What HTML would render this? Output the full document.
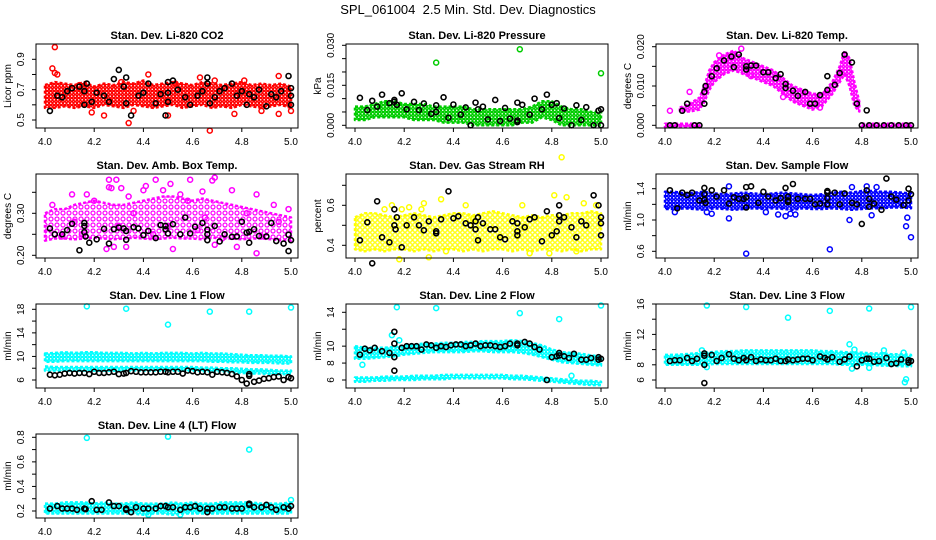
<!DOCTYPE html>
<html><head><meta charset="utf-8"><style>
html,body{margin:0;padding:0;background:#fff;}
svg{display:block;font-family:"Liberation Sans",sans-serif;}
</style></head><body>
<svg id="chart" width="936" height="540" viewBox="0 0 936 540" xmlns="http://www.w3.org/2000/svg">
<defs>
<pattern id="pd-red" width="3.5" height="3.5" patternUnits="userSpaceOnUse"><rect width="3.5" height="3.5" fill="#fff"/><circle cx="1.75" cy="1.75" r="1.4" fill="none" stroke="#ff0000" stroke-width="1.3"/></pattern>
<pattern id="pd-green" width="3.5" height="3.5" patternUnits="userSpaceOnUse"><rect width="3.5" height="3.5" fill="#fff"/><circle cx="1.75" cy="1.75" r="1.4" fill="none" stroke="#00cc00" stroke-width="1.3"/></pattern>
<pattern id="pd-magenta" width="3.5" height="3.5" patternUnits="userSpaceOnUse"><rect width="3.5" height="3.5" fill="#fff"/><circle cx="1.75" cy="1.75" r="1.4" fill="none" stroke="#ff00ff" stroke-width="1.3"/></pattern>
<pattern id="ps-magenta" width="6" height="6" patternUnits="userSpaceOnUse"><rect width="6" height="6" fill="#fff"/><circle cx="3" cy="3" r="2" fill="none" stroke="#ff00ff" stroke-width="1.2"/></pattern>
<pattern id="ps-yellow" width="5" height="5" patternUnits="userSpaceOnUse"><rect width="5" height="5" fill="#fff"/><circle cx="2.5" cy="2.5" r="1.8" fill="none" stroke="#ffff00" stroke-width="1.3"/></pattern>
<pattern id="pd-blue" width="3.5" height="3.5" patternUnits="userSpaceOnUse"><rect width="3.5" height="3.5" fill="#fff"/><circle cx="1.75" cy="1.75" r="1.4" fill="none" stroke="#0000ff" stroke-width="1.3"/></pattern>
<pattern id="pd-cyan" width="3.5" height="3.5" patternUnits="userSpaceOnUse"><rect width="3.5" height="3.5" fill="#fff"/><circle cx="1.75" cy="1.75" r="1.4" fill="none" stroke="#00ffff" stroke-width="1.3"/></pattern>
</defs>
<text x="468" y="14" text-anchor="middle" font-size="13">SPL_061004&#160; 2.5 Min. Std. Dev. Diagnostics</text>
</svg>
<script>
const xGrid=[4.00,4.04,4.08,4.12,4.16,4.20,4.24,4.28,4.32,4.36,4.40,4.44,4.48,4.52,4.56,4.60,4.64,4.68,4.72,4.76,4.80,4.84,4.88,4.92,4.96,5.00];
const xTicks=[4.0,4.2,4.4,4.6,4.8,5.0];
const xTickLabels=["4.0","4.2","4.4","4.6","4.8","5.0"];

// CO2
const co2Lo=[0.58,0.58,0.59,0.58,0.59,0.58,0.6,0.59,0.58,0.6,0.59,0.58,0.59,0.6,0.58,0.59,0.6,0.58,0.59,0.58,0.6,0.59,0.58,0.59,0.6,0.58];
const co2Hi=[0.73,0.75,0.74,0.73,0.75,0.72,0.74,0.73,0.75,0.74,0.76,0.73,0.74,0.75,0.74,0.73,0.75,0.74,0.73,0.74,0.75,0.73,0.74,0.73,0.74,0.72];
const co2OutX=[4.04,4.03,4.04,4.05,4.19,4.24,4.31,4.34,4.36,4.42,4.50,4.53,4.67,4.69,4.77,4.81,4.88,4.95,4.95,5.0,4.14,4.63];
const co2OutY=[0.98,0.84,0.81,0.80,0.55,0.53,0.75,0.48,0.56,0.80,0.53,0.74,0.43,0.76,0.54,0.76,0.56,0.79,0.54,0.56,0.73,0.78];
const co2BlkX=[4.02,4.05,4.07,4.09,4.11,4.14,4.16,4.17,4.16,4.19,4.21,4.24,4.26,4.28,4.30,4.32,4.33,4.33,4.35,4.38,4.40,4.42,4.45,4.47,4.49,4.50,4.50,4.50,4.52,4.54,4.57,4.59,4.62,4.64,4.66,4.66,4.67,4.69,4.71,4.73,4.76,4.78,4.80,4.82,4.83,4.85,4.87,4.90,4.92,4.94,4.96,4.99,5.0,5.0,5.0];
const co2BlkY=[0.56,0.66,0.65,0.69,0.71,0.72,0.69,0.74,0.6,0.62,0.68,0.66,0.62,0.77,0.83,0.72,0.78,0.61,0.53,0.66,0.68,0.74,0.61,0.67,0.53,0.62,0.68,0.75,0.76,0.70,0.65,0.6,0.66,0.69,0.78,0.74,0.61,0.65,0.69,0.71,0.74,0.66,0.69,0.6,0.67,0.65,0.7,0.59,0.67,0.65,0.69,0.79,0.71,0.66,0.6];

// Pressure
const prLo=[0.002,0.002,0.003,0.003,0.003,0.003,0.002,0.002,0.002,0.001,0.001,0.001,0.0,0.0,0.0,0.0,0.0,0.001,0.001,0.003,0.002,0.0,0.0,0.0,0.0,0.0];
const prHi=[0.007,0.007,0.008,0.009,0.009,0.008,0.008,0.008,0.007,0.007,0.007,0.007,0.006,0.006,0.006,0.006,0.006,0.006,0.007,0.009,0.009,0.007,0.006,0.006,0.005,0.005];
const prOutX=[4.33,4.67,5.0];
const prOutY=[0.0235,0.0285,0.0195];
const prBlkX=[4.02,4.05,4.07,4.09,4.11,4.14,4.16,4.16,4.17,4.19,4.21,4.24,4.26,4.28,4.31,4.33,4.33,4.36,4.38,4.40,4.43,4.45,4.47,4.49,4.50,4.52,4.54,4.57,4.59,4.61,4.63,4.66,4.66,4.66,4.68,4.71,4.73,4.76,4.78,4.80,4.82,4.83,4.85,4.88,4.90,4.92,4.94,4.97,4.99,5.0,5.0];
const prBlkY=[0.0103,0.0057,0.0092,0.007,0.0115,0.0083,0.0095,0.0088,0.0077,0.012,0.006,0.0088,0.0057,0.0082,0.0043,0.0075,0.005,0.0105,0.0028,0.0078,0.004,0.0067,0.0,0.0085,0.006,0.007,0.0022,0.0095,0.0016,0.0065,0.0025,0.0085,0.0018,0.0012,0.0077,0.004,0.010,0.006,0.0115,0.0077,0.0083,0.0027,0.0063,0.0,0.0075,0.002,0.0068,0.0,0.0055,0.006,0.0];

// Li-820 Temp
const tpHumpX=[4.06,4.10,4.14,4.16,4.18,4.20,4.24,4.28,4.32,4.36,4.40,4.44,4.48,4.52,4.56,4.60,4.64,4.68,4.71,4.73,4.75,4.77,4.79];
const tpHumpLo=[0.0035,0.0035,0.004,0.006,0.009,0.011,0.013,0.014,0.013,0.012,0.011,0.010,0.008,0.006,0.005,0.004,0.005,0.008,0.011,0.013,0.010,0.005,0.0035];
const tpHumpHi=[0.0045,0.0055,0.007,0.010,0.014,0.016,0.018,0.019,0.017,0.016,0.015,0.014,0.012,0.010,0.009,0.008,0.008,0.011,0.015,0.019,0.017,0.011,0.006];
const tpZeroAX=[4.0,4.14], tpZeroBX=[4.80,5.0];
const tpZeroLo=[-0.0004,-0.0004], tpZeroHi=[0.0004,0.0004];
const tpOutX=[4.02,4.10,4.22,4.31,4.48,4.35,4.63];
const tpOutY=[0.0037,0.0085,0.0178,0.0195,0.0072,0.0125,0.0045];
const tpBlkX=[4.02,4.04,4.07,4.09,4.12,4.14,4.16,4.16,4.165,4.19,4.21,4.24,4.27,4.28,4.30,4.33,4.33,4.35,4.37,4.40,4.42,4.45,4.47,4.49,4.49,4.52,4.54,4.57,4.59,4.61,4.63,4.66,4.66,4.69,4.71,4.73,4.76,4.78,4.82,4.80,4.83,4.86,4.89,4.92,4.95,4.98,5.0];
const tpBlkY=[0,0,0.0037,0.0055,0,0,0.0055,0.0085,0.010,0.0125,0.0145,0.0165,0.0175,0.0148,0.018,0.0142,0.0150,0.0152,0.0152,0.0135,0.0135,0.012,0.013,0.0105,0.0095,0.0088,0.0075,0.0085,0.0055,0.0055,0.0077,0.0090,0.0125,0.0103,0.0133,0.018,0.016,0.0055,0.0038,0,0,0,0,0,0,0,0];

// Amb Box Temp
const abLo=[0.235,0.24,0.24,0.238,0.24,0.242,0.24,0.238,0.24,0.242,0.24,0.238,0.24,0.242,0.24,0.24,0.238,0.242,0.24,0.24,0.238,0.24,0.24,0.238,0.236,0.235];
const abHi=[0.30,0.31,0.31,0.32,0.325,0.33,0.325,0.32,0.32,0.325,0.33,0.335,0.34,0.34,0.335,0.33,0.335,0.33,0.325,0.32,0.315,0.31,0.305,0.30,0.295,0.29];
const abOutX=[4.11,4.17,4.26,4.26,4.27,4.29,4.31,4.34,4.40,4.41,4.45,4.48,4.51,4.55,4.59,4.64,4.68,4.69,4.76,4.86,4.25,4.52,4.86,4.28,4.33,4.69,4.78,4.88,4.99,4.07,4.15,4.50,4.62,4.93,4.44,4.72,4.03,4.20,4.36,4.58,4.82,4.95,4.12,4.30,4.65];
const abOutY=[0.345,0.345,0.38,0.362,0.36,0.38,0.36,0.34,0.355,0.365,0.38,0.355,0.37,0.345,0.38,0.352,0.378,0.385,0.355,0.345,0.215,0.215,0.205,0.22,0.22,0.225,0.22,0.245,0.31,0.245,0.25,0.27,0.26,0.32,0.25,0.24,0.32,0.33,0.30,0.33,0.30,0.28,0.28,0.27,0.29];
const abBlkX=[4.02,4.04,4.07,4.09,4.11,4.14,4.16,4.16,4.16,4.165,4.18,4.21,4.24,4.26,4.28,4.30,4.32,4.33,4.33,4.36,4.38,4.40,4.42,4.45,4.47,4.49,4.49,4.50,4.52,4.55,4.57,4.59,4.61,4.64,4.66,4.66,4.66,4.69,4.71,4.73,4.76,4.78,4.80,4.82,4.83,4.83,4.85,4.87,4.90,4.92,4.94,4.97,4.99,5.0,4.99];
const abBlkY=[0.264,0.25,0.25,0.26,0.275,0.212,0.277,0.27,0.255,0.245,0.23,0.238,0.263,0.228,0.262,0.266,0.264,0.258,0.237,0.267,0.264,0.248,0.258,0.241,0.272,0.262,0.27,0.252,0.274,0.25,0.29,0.252,0.268,0.277,0.261,0.236,0.25,0.27,0.233,0.25,0.244,0.245,0.28,0.254,0.256,0.23,0.262,0.246,0.245,0.277,0.234,0.228,0.249,0.236,0.21];

// Gas Stream RH
const rhLo=[0.38,0.37,0.38,0.37,0.38,0.38,0.37,0.38,0.37,0.38,0.38,0.37,0.38,0.37,0.38,0.38,0.37,0.38,0.37,0.38,0.38,0.37,0.38,0.37,0.38,0.38];
const rhHi=[0.54,0.56,0.56,0.55,0.54,0.55,0.56,0.55,0.54,0.55,0.56,0.56,0.55,0.56,0.57,0.56,0.55,0.54,0.55,0.54,0.55,0.55,0.56,0.56,0.57,0.56];
const rhOutX=[4.12,4.19,4.27,4.28,4.35,4.45,4.68,4.81,4.84,4.86,4.93,4.98,4.18,4.30,4.37,4.71,4.79,4.90,4.15,4.48,4.22];
const rhOutY=[0.58,0.58,0.58,0.61,0.63,0.60,0.60,0.65,0.84,0.64,0.61,0.60,0.33,0.34,0.37,0.36,0.36,0.37,0.60,0.53,0.59];
const rhBlkX=[4.02,4.05,4.07,4.09,4.11,4.14,4.16,4.16,4.165,4.17,4.19,4.21,4.24,4.26,4.28,4.30,4.33,4.33,4.35,4.38,4.40,4.42,4.45,4.47,4.49,4.49,4.50,4.50,4.52,4.55,4.57,4.59,4.61,4.64,4.66,4.66,4.66,4.69,4.71,4.73,4.76,4.78,4.80,4.82,4.83,4.83,4.83,4.85,4.88,4.90,4.92,4.94,4.97,4.99,5.0,5.0,5.0];
const rhBlkY=[0.425,0.515,0.31,0.62,0.44,0.415,0.58,0.50,0.48,0.54,0.39,0.50,0.54,0.50,0.475,0.52,0.46,0.47,0.53,0.67,0.535,0.545,0.51,0.50,0.52,0.48,0.425,0.54,0.51,0.48,0.48,0.44,0.43,0.52,0.51,0.45,0.47,0.49,0.53,0.54,0.42,0.57,0.45,0.47,0.55,0.52,0.60,0.54,0.49,0.44,0.52,0.50,0.65,0.60,0.54,0.51,0.45];

// Sample Flow
const sfLo=[1.14,1.14,1.15,1.14,1.13,1.15,1.14,1.13,1.14,1.15,1.14,1.15,1.14,1.13,1.15,1.14,1.14,1.15,1.14,1.13,1.14,1.15,1.15,1.16,1.16,1.15];
const sfHi=[1.36,1.36,1.34,1.35,1.36,1.34,1.33,1.34,1.35,1.34,1.33,1.34,1.35,1.34,1.33,1.32,1.33,1.35,1.36,1.35,1.37,1.37,1.36,1.36,1.35,1.34];
const sfOutX=[4.26,4.26,4.33,4.46,4.49,4.51,4.53,4.67,4.75,4.76,4.82,4.84,4.86,4.98,4.985,5.0,4.04,4.17,4.19,4.41];
const sfOutY=[1.43,1.02,0.57,1.07,1.05,1.08,1.07,0.625,1.00,1.42,1.43,1.06,1.42,0.92,1.03,0.78,1.1,1.1,1.08,1.1];
const sfBlkX=[4.02,4.05,4.07,4.09,4.11,4.14,4.16,4.16,4.16,4.165,4.19,4.21,4.24,4.26,4.28,4.30,4.32,4.33,4.33,4.33,4.35,4.38,4.40,4.42,4.45,4.47,4.49,4.50,4.50,4.50,4.52,4.54,4.57,4.59,4.61,4.63,4.66,4.66,4.66,4.66,4.69,4.71,4.73,4.76,4.78,4.80,4.82,4.83,4.83,4.85,4.88,4.90,4.92,4.94,4.97,4.99,5.0,4.99];
const sfBlkY=[1.38,1.15,1.35,1.32,1.35,1.25,1.26,1.33,1.41,1.22,1.38,1.30,1.38,1.21,1.29,1.27,1.27,1.29,1.42,1.16,1.43,1.22,1.36,1.30,1.25,1.28,1.41,1.25,1.23,1.30,1.46,1.27,1.27,1.27,1.20,1.21,1.20,1.35,1.37,1.28,1.35,1.2,1.34,1.22,1.2,0.95,1.38,1.17,1.27,1.21,1.13,1.53,1.30,1.26,1.19,1.40,1.33,1.25];

// Line 1 Flow
const l1UpLo=[9.1,9.1,9.2,9.2,9.2,9.2,9.2,9.2,9.2,9.2,9.2,9.2,9.2,9.2,9.2,9.2,9.2,9.1,9.1,9.0,9.0,8.9,8.9,8.9,8.8,8.8];
const l1UpHi=[10.5,10.6,10.7,10.6,10.7,10.7,10.6,10.6,10.6,10.5,10.6,10.5,10.6,10.6,10.6,10.5,10.6,10.5,10.5,10.4,10.3,10.2,10.2,10.1,10.1,10.0];
const l1LwLo=[7.6,7.6,7.6,7.6,7.6,7.6,7.6,7.6,7.6,7.6,7.6,7.6,7.6,7.6,7.6,7.6,7.5,7.5,7.5,7.3,7.2,7.1,7.1,7.0,7.0,7.0];
const l1LwHi=[8.3,8.2,8.2,8.2,8.2,8.2,8.2,8.2,8.2,8.2,8.2,8.2,8.2,8.2,8.2,8.2,8.1,8.1,8.0,8.0,7.9,7.8,7.8,7.7,7.6,7.6];
const l1OutX=[4.17,4.33,4.50,4.67,4.83,5.0];
const l1OutY=[18.5,18.1,15.4,17.6,17.6,18.3];
const l1BlkX=[4.02,4.04,4.06,4.08,4.10,4.12,4.14,4.16,4.18,4.20,4.22,4.24,4.26,4.28,4.30,4.32,4.33,4.35,4.37,4.39,4.41,4.43,4.45,4.47,4.49,4.50,4.52,4.54,4.56,4.58,4.60,4.62,4.64,4.66,4.68,4.70,4.72,4.74,4.76,4.78,4.80,4.82,4.83,4.83,4.85,4.87,4.89,4.91,4.93,4.95,4.97,4.99,5.0];
const l1BlkY=[6.9,6.8,6.9,7.1,7.2,7.1,7.2,7.2,7.0,7.4,7.2,7.2,7.3,7.4,7.0,7.1,7.2,7.5,7.4,7.3,7.3,7.3,7.3,7.4,7.4,7.3,7.4,7.4,7.1,7.6,7.5,7.3,7.4,7.3,6.9,7.4,7.3,7.2,7.0,6.6,6.0,5.4,7.0,6.7,5.7,5.9,6.2,6.3,6.5,6.6,6.0,6.5,6.3];

// Line 2 Flow
const l2UpLo=[8.5,8.5,8.6,8.7,8.8,9.0,9.1,9.2,9.3,9.3,9.3,9.3,9.4,9.4,9.3,9.3,9.3,9.2,9.0,8.7,8.4,8.1,8.0,7.9,7.8,7.7];
const l2UpHi=[10.0,9.8,9.8,9.8,9.9,10.1,10.2,10.3,10.3,10.4,10.4,10.5,10.5,10.6,10.6,10.6,10.7,10.6,10.4,10.1,9.6,9.3,9.2,9.1,8.9,8.8];
const l2LwLo=[5.8,5.8,5.9,5.9,6.0,6.0,6.0,6.1,6.1,6.1,6.2,6.2,6.2,6.2,6.2,6.2,6.1,6.1,6.0,5.9,5.8,5.7,5.6,5.5,5.4,5.4];
const l2LwHi=[6.3,6.3,6.3,6.4,6.4,6.4,6.5,6.5,6.5,6.6,6.6,6.6,6.6,6.6,6.6,6.6,6.5,6.5,6.4,6.3,6.2,6.1,6.0,5.9,5.9,5.8];
const l2OutX=[4.17,4.33,4.67,4.83,5.0,4.15,4.03,4.88,4.18];
const l2OutY=[14.6,14.5,13.9,13.2,14.8,11.3,7.8,6.5,10.7];
const l2BlkX=[4.02,4.04,4.06,4.08,4.11,4.14,4.16,4.16,4.16,4.16,4.19,4.21,4.23,4.25,4.27,4.29,4.31,4.33,4.35,4.37,4.39,4.41,4.43,4.45,4.47,4.49,4.51,4.53,4.55,4.57,4.59,4.61,4.63,4.66,4.66,4.69,4.71,4.73,4.75,4.78,4.80,4.82,4.83,4.83,4.85,4.87,4.89,4.92,4.94,4.96,4.99,5.0,4.99];
const l2BlkY=[9.0,9.7,9.5,9.8,9.4,9.2,11.7,10.3,8.7,7.1,9.8,10.0,10.0,10.0,9.6,10.2,10.1,9.8,10.0,9.9,10.1,10.2,10.2,10.0,10.1,10.3,10.0,10.1,10.1,10.0,9.9,10.0,10.3,10.3,10.1,10.5,10.3,9.9,9.6,6.0,8.7,8.8,9.2,8.9,8.8,8.6,9.1,8.4,8.4,8.6,8.7,8.5,8.4];

// Line 3 Flow
const l3Lo=[8.0,8.0,8.0,8.0,8.0,8.1,8.1,8.1,8.1,8.1,8.1,8.1,8.1,8.1,8.1,8.1,8.1,8.1,8.0,8.0,8.0,8.0,7.9,7.9,7.8,7.8];
const l3Hi=[9.3,9.3,9.4,9.5,9.6,9.7,9.8,9.8,9.9,9.9,9.9,9.9,9.9,9.9,9.9,9.9,9.8,9.8,9.7,9.6,9.6,9.5,9.5,9.4,9.4,9.3];
const l3OutX=[4.17,4.33,4.50,4.67,4.83,5.0,4.15,4.75,4.77,4.89,4.98,4.975,4.76,4.83,4.97,4.17];
const l3OutY=[15.8,15.6,14.2,15.1,15.4,15.6,9.9,10.7,10.0,9.9,6.1,5.7,7.5,7.6,9.6,7.7];
const l3BlkX=[4.02,4.04,4.06,4.09,4.11,4.13,4.16,4.16,4.16,4.16,4.19,4.21,4.23,4.26,4.28,4.30,4.32,4.33,4.35,4.37,4.39,4.41,4.43,4.45,4.47,4.49,4.50,4.52,4.54,4.56,4.58,4.60,4.63,4.65,4.66,4.68,4.71,4.73,4.75,4.78,4.80,4.82,4.83,4.85,4.87,4.90,4.92,4.94,4.96,4.99,5.0,4.99];
const l3BlkY=[8.5,8.6,8.6,8.9,8.5,8.8,9.5,9.2,8.0,5.6,9.3,8.5,8.9,9.4,8.8,8.6,8.9,8.6,9.0,8.5,8.7,8.6,8.6,8.8,8.5,8.5,8.7,8.6,8.7,8.8,8.8,8.6,9.1,8.9,8.7,9.0,8.4,8.7,9.1,7.8,8.6,8.8,8.8,8.4,8.5,8.9,8.1,8.2,8.7,8.3,8.5,8.6];

// Line 4 Flow
const l4Lo=[0.18,0.18,0.18,0.18,0.18,0.18,0.18,0.18,0.18,0.18,0.17,0.18,0.18,0.17,0.18,0.18,0.18,0.18,0.18,0.18,0.18,0.18,0.18,0.18,0.18,0.18];
const l4Hi=[0.26,0.26,0.27,0.27,0.27,0.26,0.27,0.26,0.26,0.27,0.26,0.26,0.26,0.27,0.26,0.27,0.26,0.26,0.27,0.27,0.27,0.27,0.26,0.26,0.26,0.27];
const l4OutX=[4.17,4.50,4.83,5.0,4.42,4.55];
const l4OutY=[0.795,0.805,0.70,0.29,0.17,0.17];
const l4BlkX=[4.02,4.05,4.07,4.09,4.11,4.13,4.16,4.165,4.19,4.21,4.23,4.26,4.28,4.30,4.33,4.33,4.35,4.37,4.40,4.42,4.45,4.47,4.49,4.50,4.52,4.55,4.57,4.59,4.61,4.63,4.66,4.66,4.68,4.71,4.73,4.76,4.78,4.80,4.83,4.83,4.85,4.88,4.90,4.92,4.94,4.97,4.99,5.0];
const l4BlkY=[0.22,0.24,0.22,0.22,0.22,0.21,0.22,0.215,0.28,0.21,0.21,0.27,0.24,0.24,0.22,0.21,0.19,0.23,0.22,0.22,0.22,0.24,0.24,0.23,0.23,0.21,0.23,0.23,0.24,0.22,0.22,0.19,0.22,0.23,0.23,0.22,0.22,0.22,0.26,0.25,0.23,0.23,0.25,0.23,0.21,0.23,0.22,0.24];

// Axis ticks
const co2Ticks=[0.5,0.6,0.7,0.8,0.9], co2Labels=["0.5","","0.7","","0.9"];
const prTicks=[0,0.005,0.010,0.015,0.020,0.025,0.030], prLabels=["0.000","","","0.015","","","0.030"];
const tpTicks=[0,0.005,0.010,0.015,0.020], tpLabels=["0.000","","0.010","","0.020"];
const abTicks=[0.20,0.25,0.30,0.35], abLabels=["0.20","","0.30",""];
const rhTicks=[0.4,0.5,0.6,0.7], rhLabels=["0.4","","0.6",""];
const sfTicks=[0.6,0.8,1.0,1.2,1.4], sfLabels=["0.6","","1.0","","1.4"];
const l1Ticks=[6,8,10,12,14,16,18], l1Labels=["6","","10","","14","","18"];
const l2Ticks=[6,8,10,12,14], l2Labels=["6","8","10","","14"];
const l3Ticks=[6,8,10,12,14,16], l3Labels=["6","8","","12","","16"];
const l4Ticks=[0.2,0.3,0.4,0.5,0.6,0.7,0.8], l4Labels=["0.2","","0.4","","0.6","","0.8"];

const svg=document.getElementById('chart');
const NS='http://www.w3.org/2000/svg';
function mk(tag,attrs,parent){const e=document.createElementNS(NS,tag);for(const k in attrs)e.setAttribute(k,attrs[k]);parent.appendChild(e);return e;}

function panel(p){
  const g=mk('g',{},svg);
  
  
  const L=p.left,T=p.top,W=262,H=84,B=T+H;
  const xs=v=>L+9+(v-4)*246;
  const ys=v=>p.p0+(v-p.v0)*(p.p1-p.p0)/(p.v1-p.v0);
  p.bands.forEach(b=>{
    let d='M'+b.x.map((x,i)=>xs(x).toFixed(1)+','+ys(b.hi[i]).toFixed(1)).join(' L');
    for(let i=b.x.length-1;i>=0;i--) d+=' L'+xs(b.x[i]).toFixed(1)+','+ys(b.lo[i]).toFixed(1);
    d+=' Z';
    const e=mk('path',{d:d,fill:'url(#'+b.pat+')',stroke:p.color,'stroke-width':2.5,'stroke-linejoin':'round','stroke-dasharray':'3 2'},g);
    
    
  });
  p.outX.forEach((x,i)=>{
    const c=mk('circle',{cx:xs(x),cy:ys(p.outY[i]),r:2.5,fill:'none',stroke:p.color,'stroke-width':1.5},g);
    
    
  });
  p.blkX.forEach((x,i)=>{
    const c=mk('circle',{cx:xs(x),cy:ys(p.blkY[i]),r:2.5,fill:'none',stroke:'#000','stroke-width':1.6},g);
    
    
  });
  const bx=mk('rect',{x:L,y:T,width:W,height:H,fill:'none',stroke:'#000','stroke-width':1},g);
  
  
  const t=mk('text',{x:L+W/2,y:T-5,'text-anchor':'middle','font-size':11,'font-weight':'bold'},g);
  t.textContent=p.title;
  
  
  xTicks.forEach((v,i)=>{
    mk('line',{x1:xs(v),x2:xs(v),y1:B,y2:B+4,stroke:'#000'},g);
    const tl=mk('text',{x:xs(v),y:B+17,'text-anchor':'middle','font-size':10},g);
    tl.textContent=xTickLabels[i];
    
    
  });
  p.ticks.forEach((v,i)=>{
    const y=ys(v);
    mk('line',{x1:L-4,x2:L,y1:y,y2:y,stroke:'#000'},g);
    if(p.labels[i]){
      const tl=mk('text',{x:0,y:0,'text-anchor':'middle','font-size':10,transform:'translate('+(L-12)+','+y+') rotate(-90)'},g);
      tl.textContent=p.labels[i];
      
      
    }
  });
  const yl=mk('text',{x:0,y:0,'text-anchor':'middle','font-size':10,transform:'translate('+(L-25)+','+(T+H/2)+') rotate(-90)'},g);
  yl.textContent=p.unit;
  
  
}

const C1=36,C2=346,C3=656,R1=44,R2=174,R3=304,R4=434;
panel({name:'co2',title:'Stan. Dev. Li-820 CO2',unit:'Licor ppm',left:C1,top:R1,v0:0.5,p0:120,v1:0.9,p1:59.3,color:'#ff0000',
  bands:[{x:xGrid,lo:co2Lo,hi:co2Hi,pat:'pd-red'}],outX:co2OutX,outY:co2OutY,blkX:co2BlkX,blkY:co2BlkY,ticks:co2Ticks,labels:co2Labels});
panel({name:'pressure',title:'Stan. Dev. Li-820 Pressure',unit:'kPa',left:C2,top:R1,v0:0,p0:125.3,v1:0.030,p1:45.3,color:'#00cc00',
  bands:[{x:xGrid,lo:prLo,hi:prHi,pat:'pd-green'}],outX:prOutX,outY:prOutY,blkX:prBlkX,blkY:prBlkY,ticks:prTicks,labels:prLabels});
panel({name:'licor-temp',title:'Stan. Dev. Li-820 Temp.',unit:'degrees C',left:C3,top:R1,v0:0,p0:125.3,v1:0.020,p1:46.7,color:'#ff00ff',
  bands:[{x:tpHumpX,lo:tpHumpLo,hi:tpHumpHi,pat:'pd-magenta'},{x:tpZeroAX,lo:tpZeroLo,hi:tpZeroHi,pat:'pd-magenta'},{x:tpZeroBX,lo:tpZeroLo,hi:tpZeroHi,pat:'pd-magenta'}],
  outX:tpOutX,outY:tpOutY,blkX:tpBlkX,blkY:tpBlkY,ticks:tpTicks,labels:tpLabels});
panel({name:'amb-box-temp',title:'Stan. Dev. Amb. Box Temp.',unit:'degrees C',left:C1,top:R2,v0:0.2,p0:255.3,v1:0.3,p1:213.3,color:'#ff00ff',
  bands:[{x:xGrid,lo:abLo,hi:abHi,pat:'ps-magenta'}],outX:abOutX,outY:abOutY,blkX:abBlkX,blkY:abBlkY,ticks:abTicks,labels:abLabels});
panel({name:'gas-rh',title:'Stan. Dev. Gas Stream RH',unit:'percent',left:C2,top:R2,v0:0.4,p0:245.3,v1:0.6,p1:205.3,color:'#ffff00',
  bands:[{x:xGrid,lo:rhLo,hi:rhHi,pat:'ps-yellow'}],outX:rhOutX,outY:rhOutY,blkX:rhBlkX,blkY:rhBlkY,ticks:rhTicks,labels:rhLabels});
panel({name:'sample-flow',title:'Stan. Dev. Sample Flow',unit:'ml/min',left:C3,top:R2,v0:0.6,p0:251.3,v1:1.4,p1:188.7,color:'#0000ff',
  bands:[{x:xGrid,lo:sfLo,hi:sfHi,pat:'pd-blue'}],outX:sfOutX,outY:sfOutY,blkX:sfBlkX,blkY:sfBlkY,ticks:sfTicks,labels:sfLabels});
panel({name:'line1-flow',title:'Stan. Dev. Line 1 Flow',unit:'ml/min',left:C1,top:R3,v0:6,p0:380,v1:18,p1:309.3,color:'#00ffff',
  bands:[{x:xGrid,lo:l1UpLo,hi:l1UpHi,pat:'pd-cyan'},{x:xGrid,lo:l1LwLo,hi:l1LwHi,pat:'pd-cyan'}],outX:l1OutX,outY:l1OutY,blkX:l1BlkX,blkY:l1BlkY,ticks:l1Ticks,labels:l1Labels});
panel({name:'line2-flow',title:'Stan. Dev. Line 2 Flow',unit:'ml/min',left:C2,top:R3,v0:6,p0:380,v1:14,p1:312.3,color:'#00ffff',
  bands:[{x:xGrid,lo:l2UpLo,hi:l2UpHi,pat:'pd-cyan'},{x:xGrid,lo:l2LwLo,hi:l2LwHi,pat:'pd-cyan'}],outX:l2OutX,outY:l2OutY,blkX:l2BlkX,blkY:l2BlkY,ticks:l2Ticks,labels:l2Labels});
panel({name:'line3-flow',title:'Stan. Dev. Line 3 Flow',unit:'ml/min',left:C3,top:R3,v0:6,p0:380,v1:16,p1:304,color:'#00ffff',
  bands:[{x:xGrid,lo:l3Lo,hi:l3Hi,pat:'pd-cyan'}],outX:l3OutX,outY:l3OutY,blkX:l3BlkX,blkY:l3BlkY,ticks:l3Ticks,labels:l3Labels});
panel({name:'line4-flow',title:'Stan. Dev. Line 4 (LT) Flow',unit:'ml/min',left:C1,top:R4,v0:0.2,p0:511,v1:0.8,p1:437.3,color:'#00ffff',
  bands:[{x:xGrid,lo:l4Lo,hi:l4Hi,pat:'pd-cyan'}],outX:l4OutX,outY:l4OutY,blkX:l4BlkX,blkY:l4BlkY,ticks:l4Ticks,labels:l4Labels});
</script>
</body></html>
